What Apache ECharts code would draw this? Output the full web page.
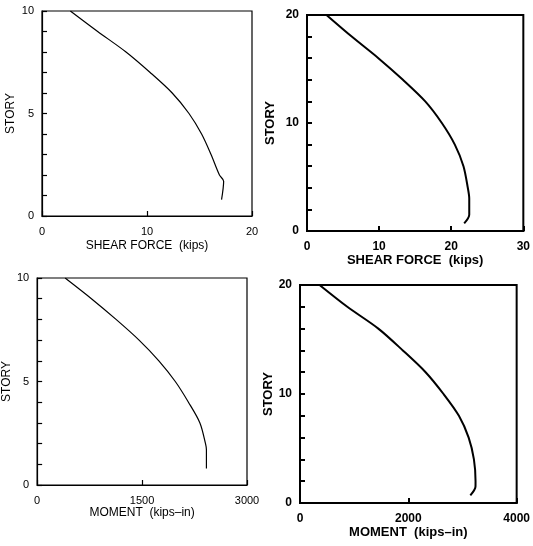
<!DOCTYPE html>
<html>
<head>
<meta charset="utf-8">
<script src="https://cdn.jsdelivr.net/npm/echarts@6/dist/echarts.min.js"></script>
<style>
  html, body { margin: 0; padding: 0; background: #fff; }
  #chart { width: 533px; height: 546px; }
</style>
</head>
<body>
<div id="chart"></div>
<script>
// 10-story frame
var story10 = [10, 9, 8, 7, 6, 5, 4, 3, 2, 1.7, 0.8];
var shear10 = [2.7, 5.3, 8.0, 10.3, 12.4, 14.0, 15.2, 16.1, 16.9, 17.3, 17.1];
var moment10 = [400, 776, 1128, 1457, 1740, 1975, 2163, 2327, 2407, 2420, 2420];

// 20-story frame
var story20s = [20, 18, 16, 14, 12, 10, 8, 6, 4, 3, 1.5, 0.7];
var shear20 = [2.7, 6.2, 9.9, 13.3, 16.4, 18.7, 20.5, 21.7, 22.3, 22.5, 22.5, 21.8];
var story20m = [20, 18, 16, 14, 12, 10, 8, 6, 4, 2, 1.5, 0.7];
var moment20 = [361, 873, 1446, 1898, 2319, 2650, 2934, 3114, 3211, 3241, 3240, 3145];

var xNames = ['SHEAR FORCE  (kips)', 'SHEAR FORCE  (kips)', 'MOMENT  (kips\u2013in)', 'MOMENT  (kips\u2013in)'];
var xMax = [20, 30, 3000, 4000];
var xStep = [10, 10, 1500, 2000];
var yMax = [10, 20, 10, 20];

function pairs(xs, ys) {
  return xs.map(function (x, i) { return [x, ys[i]]; });
}

var thin = { family: 'Liberation Sans', weight: 'normal', size: 11, line: 1.2 };
var bold = { family: 'Liberation Sans', weight: 'bold', size: 12, line: 2 };
var styles = [thin, bold, thin, bold];

var grids = [
  { left: 42, top: 11, width: 210, height: 205 },
  { left: 307, top: 15, width: 221, height: 216 },
  { left: 33, top: 278, width: 214, height: 207 },
  { left: 300, top: 285, width: 222, height: 218 }
];
var nameGapX = [24, 18, 20, 19];
var nameGapY = [25, 30, 24, 24];

var option = {
  animation: false,
  backgroundColor: '#fff',
  grid: grids.map(function (g, i) {
    return Object.assign({ show: true, borderColor: '#000', borderWidth: styles[i].line, containLabel: false }, g);
  }),
  xAxis: grids.map(function (g, i) {
    var s = styles[i];
    return {
      gridIndex: i, type: 'value', min: 0, max: xMax[i], interval: xStep[i],
      name: xNames[i], nameLocation: 'middle', nameGap: nameGapX[i],
      nameTextStyle: { color: '#000', fontFamily: s.family, fontWeight: s.weight, fontSize: s.size + 1 },
      axisLine: { lineStyle: { color: '#000', width: s.line } },
      axisTick: { inside: true, length: 5, lineStyle: { color: '#000', width: s.line } },
      axisLabel: {
        color: '#000', fontFamily: s.family, fontWeight: s.weight, fontSize: s.size, margin: 10,
        formatter: function (v) { return String(v); }
      },
      splitLine: { show: false }
    };
  }),
  yAxis: grids.map(function (g, i) {
    var s = styles[i];
    var step = yMax[i] / 10;
    return {
      gridIndex: i, type: 'value', min: 0, max: yMax[i], interval: step,
      name: 'STORY', nameLocation: 'middle', nameGap: nameGapY[i],
      nameTextStyle: { color: '#000', fontFamily: s.family, fontWeight: s.weight, fontSize: s.size + 1 },
      axisLine: { lineStyle: { color: '#000', width: s.line } },
      axisTick: { inside: true, length: 5, lineStyle: { color: '#000', width: s.line } },
      axisLabel: {
        color: '#000', fontFamily: s.family, fontWeight: s.weight, fontSize: s.size, margin: 8,
        formatter: function (v) { return v % (yMax[i] / 2) === 0 ? String(v) : ''; }
      },
      splitLine: { show: false }
    };
  }),
  series: [
    pairs(shear10, story10),
    pairs(shear20, story20s),
    pairs(moment10, story10),
    pairs(moment20, story20m)
  ].map(function (d, i) {
    return {
      type: 'line', xAxisIndex: i, yAxisIndex: i, data: d,
      showSymbol: false, smooth: 0.3,
      lineStyle: { color: '#000', width: styles[i].line }
    };
  })
};

var chart = echarts.init(document.getElementById('chart'));
chart.setOption(option);
</script>
</body>
</html>
